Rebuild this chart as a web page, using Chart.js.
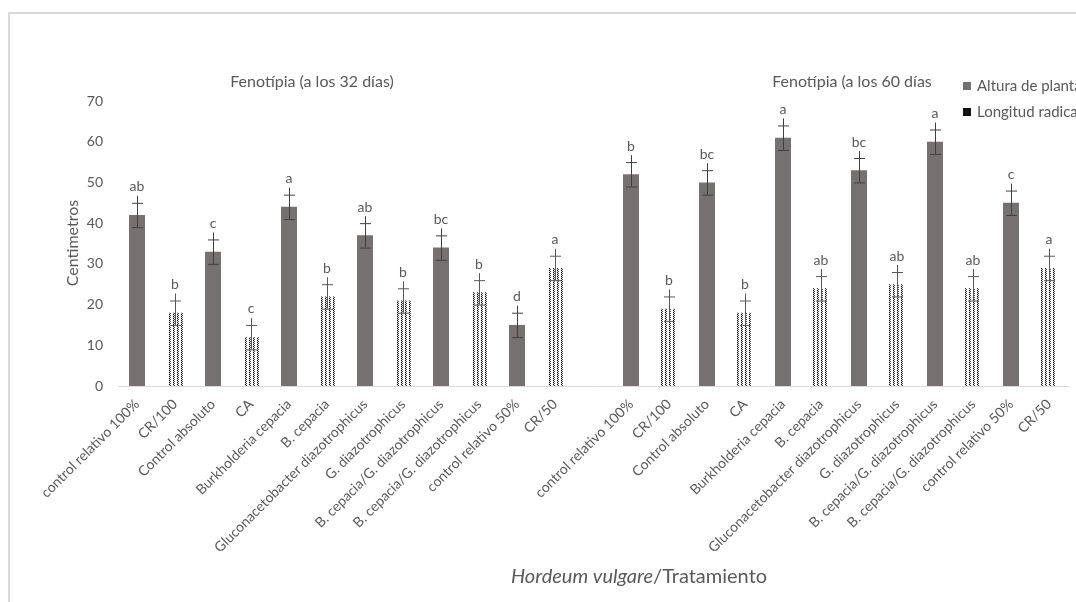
<!DOCTYPE html>
<html>
<head>
<meta charset="utf-8">
<script src="https://cdn.jsdelivr.net/npm/chart.js@4"></script>
<style>
  body { margin: 0; background: #fff; }
  canvas { display: block; }
</style>
</head>
<body>
<canvas id="myChart" width="1076" height="602"></canvas>
<script>
// treatments, same order in both panels
const tratamientos = ['control relativo 100%', 'CR/100', 'Control absoluto', 'CA',
  'Burkholderia cepacia', 'B. cepacia', 'Gluconacetobacter diazotrophicus', 'G. diazotrophicus',
  'B. cepacia/G. diazotrophicus', 'B. cepacia/G. diazotrophicus', 'control relativo 50%', 'CR/50'];

// 32 days
const altura32 = [42, 33, 44, 37, 34, 15];
const longitud32 = [18, 12, 22, 21, 23, 29];
const alturaErr32 = [3, 3, 3, 3, 3, 3];
const longitudErr32 = [3, 3, 3, 3, 3, 3];
const letras32 = ['ab', 'b', 'c', 'c', 'a', 'b', 'ab', 'b', 'bc', 'b', 'd', 'a'];

// 60 days
const altura60 = [52, 50, 61, 53, 60, 45];
const longitud60 = [19, 18, 24, 25, 24, 29];
const alturaErr60 = [3, 3, 3, 3, 3, 3];
const longitudErr60 = [3, 3, 3, 3, 3, 3];
const letras60 = ['b', 'b', 'bc', 'b', 'a', 'ab', 'bc', 'ab', 'a', 'ab', 'c', 'a'];

const yTicks = [0, 10, 20, 30, 40, 50, 60, 70];

const textColor = '#595959';
const barGray = '#767171';
const font = 'Lato';

// build the 25 slots: 12 + empty gap + 12
function panel(alt, lon) {
  const a = [], l = [];
  for (let i = 0; i < 6; i++) {
    a.push(alt[i], null);
    l.push(null, lon[i]);
  }
  return [a, l];
}
const p32 = panel(altura32, longitud32);
const p60 = panel(altura60, longitud60);
const e32 = panel(alturaErr32, longitudErr32);
const e60 = panel(alturaErr60, longitudErr60);

const labels = tratamientos.concat([''], tratamientos);
const alturaData = p32[0].concat([null], p60[0]);
const longitudData = p32[1].concat([null], p60[1]);
const alturaErr = e32[0].concat([null], e60[0]);
const longitudErr = e32[1].concat([null], e60[1]);
const letras = letras32.concat([''], letras60);

// dotted fill for Longitud radical
function makePattern() {
  const c = document.createElement('canvas');
  c.width = 4; c.height = 2;
  const x = c.getContext('2d');
  x.fillStyle = '#fff';
  x.fillRect(0, 0, 4, 2);
  x.fillStyle = '#000';
  x.fillRect(1, 0, 1, 1);
  x.fillStyle = '#444';
  x.fillRect(2, 1, 1, 1);
  x.fillStyle = '#ccc';
  x.fillRect(1, 1, 1, 1);
  return x.createPattern(c, 'repeat');
}
const dotted = makePattern();

const decor = {
  id: 'decor',
  beforeDraw(chart) {
    const ctx = chart.ctx;
    ctx.save();
    ctx.fillStyle = '#fff';
    ctx.fillRect(0, 0, chart.width, chart.height);
    ctx.strokeStyle = '#d9d9d9';
    ctx.lineWidth = 2;
    ctx.beginPath();
    ctx.moveTo(9, chart.height);
    ctx.lineTo(9, 13);
    ctx.lineTo(chart.width, 13);
    ctx.stroke();
    ctx.restore();
  },
  afterDatasetsDraw(chart) {
    const ctx = chart.ctx;
    const y = chart.scales.y;
    const errs = [alturaErr, longitudErr];
    ctx.save();
    chart.data.datasets.forEach((ds, d) => {
      const meta = chart.getDatasetMeta(d);
      meta.data.forEach((bar, i) => {
        const v = ds.data[i];
        if (v == null) return;
        const e = errs[d][i];
        const top = y.getPixelForValue(v + e);
        const bot = y.getPixelForValue(v - e);
        ctx.strokeStyle = d === 0 ? '#404040' : '#595959';
        ctx.lineWidth = 1;
        ctx.beginPath();
        ctx.moveTo(bar.x + 0.5, top - 7);
        ctx.lineTo(bar.x + 0.5, bot);
        ctx.moveTo(bar.x - 5, top + 0.5);
        ctx.lineTo(bar.x + 6, top + 0.5);
        ctx.moveTo(bar.x - 5, bot + 0.5);
        ctx.lineTo(bar.x + 6, bot + 0.5);
        ctx.stroke();
        ctx.fillStyle = textColor;
        ctx.font = '14px ' + font;
        ctx.textAlign = 'center';
        ctx.textBaseline = 'bottom';
        ctx.fillText(letras[i], bar.x, top - 9);
      });
    });
    ctx.restore();
  },
  afterDraw(chart) {
    const ctx = chart.ctx;
    ctx.save();
    ctx.fillStyle = textColor;
    ctx.textBaseline = 'middle';
    ctx.font = '16px ' + font;
    ctx.textAlign = 'center';
    ctx.fillText('Fenotípia (a los 32 días)', 312, 82);
    ctx.fillText('Fenotípia (a los 60 días', 852, 82);

    // legend
    ctx.font = '15px ' + font;
    ctx.textAlign = 'left';
    ctx.fillStyle = barGray;
    ctx.fillRect(963, 82, 8, 8);
    ctx.fillStyle = '#111';
    ctx.fillRect(963, 108, 8, 8);
    ctx.fillStyle = textColor;
    ctx.fillText(chart.data.datasets[0].label, 977, 86);
    ctx.fillText(chart.data.datasets[1].label, 977, 112);

    // y title
    ctx.save();
    ctx.translate(73, 243);
    ctx.rotate(-Math.PI / 2);
    ctx.textAlign = 'center';
    ctx.font = '16px ' + font;
    ctx.fillText('Centimetros', 0, 0);
    ctx.restore();

    // x title, species in italics
    const part1 = 'Hordeum vulgare';
    const part2 = '/Tratamiento';
    ctx.font = 'italic 20px ' + font;
    const w1 = ctx.measureText(part1).width;
    ctx.font = '20px ' + font;
    const w2 = ctx.measureText(part2).width;
    let x0 = 639 - (w1 + w2) / 2;
    ctx.textAlign = 'left';
    ctx.font = 'italic 20px ' + font;
    ctx.fillText(part1, x0, 577);
    ctx.font = '20px ' + font;
    ctx.fillText(part2, x0 + w1, 577);
    ctx.restore();
  }
};

const ctx = document.getElementById('myChart').getContext('2d');
const chart = new Chart(ctx, {
  type: 'bar',
  data: {
    labels: labels,
    datasets: [{
      label: 'Altura de planta',
      data: alturaData,
      backgroundColor: barGray,
      grouped: false,
      barPercentage: 0.42,
      categoryPercentage: 1
    }, {
      label: 'Longitud radical',
      data: longitudData,
      backgroundColor: dotted,
      grouped: false,
      barPercentage: 0.42,
      categoryPercentage: 1
    }]
  },
  options: {
    responsive: false,
    animation: false,
    layout: { padding: { top: 101, right: 8, left: 0, bottom: 0 } },
    plugins: {
      legend: { display: false },
      tooltip: { enabled: false }
    },
    scales: {
      x: {
        grid: { display: false },
        border: { display: true, color: '#d9d9d9', width: 1 },
        ticks: {
          autoSkip: false,
          maxRotation: 45,
          minRotation: 45,
          padding: 2,
          color: textColor,
          font: { family: font, size: 14 }
        },
        afterFit(scale) { scale.height = 216; }
      },
      y: {
        min: 0,
        max: 70,
        grid: { display: false, drawTicks: false },
        border: { display: false },
        afterBuildTicks(scale) { scale.ticks = yTicks.map(v => ({ value: v })); },
        ticks: {
          padding: 15,
          color: textColor,
          font: { family: font, size: 14 }
        },
        afterFit(scale) { scale.width = 118; }
      }
    }
  },
  plugins: [decor]
});
</script>
</body>
</html>
